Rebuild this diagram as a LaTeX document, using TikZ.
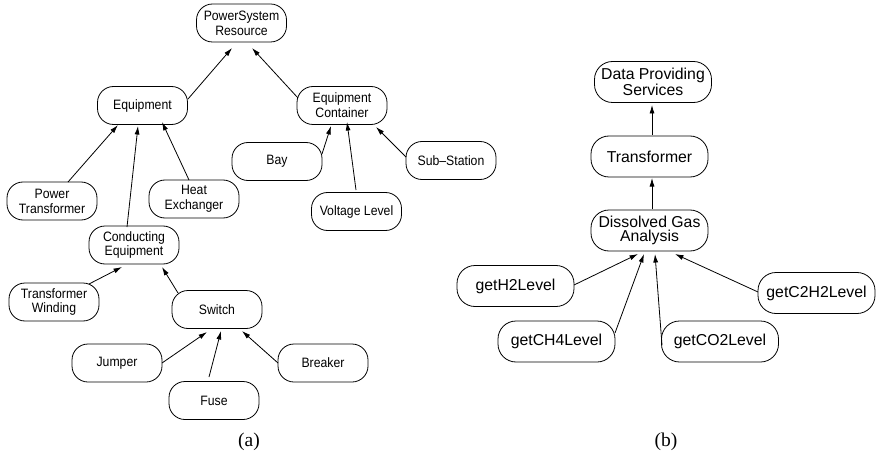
\documentclass[tikz,border=0pt]{standalone}
\usepackage{fontspec}
\usetikzlibrary{arrows.meta}
\newfontfamily\leftfont{Liberation Sans}[FakeStretch=0.9]
\newfontfamily\rightfont{Liberation Sans}
\newfontfamily\captionfont{Liberation Serif}
\tikzset{
  lnode/.style={draw, line width=0.8pt, rounded corners=16pt, minimum width=90pt, minimum height=38pt, inner sep=0pt, align=center, font=\leftfont\fontsize{13.6}{14.8}\selectfont},
  rnode/.style={draw, line width=0.8pt, rounded corners=18pt, minimum width=117pt, minimum height=41pt, inner sep=0pt, align=center, font=\rightfont\fontsize{15.8}{14.5}\selectfont},
  arr/.style={-{Latex[length=8.5pt,width=5pt]}, line width=0.8pt},
  captext/.style={font=\captionfont\fontsize{19.5}{22}\selectfont, inner sep=0pt}
}
\begin{document}
\begin{tikzpicture}[x=1pt,y=-1pt]
\path[use as bounding box] (0,0) rectangle (877,457);
% panel (a)
\node[lnode] (psr) at (241.5,23) {PowerSystem\\Resource};
\node[lnode] (eq) at (142.5,105.5) {Equipment};
\node[lnode] (ec) at (342,105.5) {Equipment\\Container};
\node[lnode] (bay) at (277,161.5) {Bay};
\node[lnode] (sub) at (451,160.5) {Sub–Station};
\node[lnode] (vl) at (356.5,211.5) {Voltage Level};
\node[lnode] (pt) at (52,201) {Power\\Transformer};
\node[lnode] (he) at (194,199) {Heat\\Exchanger};
\node[lnode] (ce) at (134,245) {Conducting\\Equipment};
\node[lnode] (tw) at (54,302) {Transformer\\Winding};
\node[lnode] (sw) at (217,309.5) {Switch};
\node[lnode] (jp) at (117,363) {Jumper};
\node[lnode] (br) at (323,363) {Breaker};
\node[lnode] (fu) at (214,400.5) {Fuse};
\node[captext] (capa) at (249,442) {(a)};
\draw[arr] ([shift={(45.5,-6.5)}]eq.center) -- ([shift={(-9.5,25)}]psr.center);
\draw[arr] ([shift={(-44,-7.5)}]ec.center) -- ([shift={(10.5,25)}]psr.center);
\draw[arr] ([shift={(16,-19)}]pt.center) -- ([shift={(-24.5,19.5)}]eq.center);
\draw[arr] ([shift={(-7,-18)}]ce.center) -- ([shift={(-4.5,20.5)}]eq.center);
\draw[arr] ([shift={(-5,-19)}]he.center) -- ([shift={(19.5,16.5)}]eq.center);
\draw[arr] ([shift={(45,-7.5)}]bay.center) -- ([shift={(-11,20.5)}]ec.center);
\draw[arr] ([shift={(-0.5,-21.5)}]vl.center) -- ([shift={(5,16.5)}]ec.center);
\draw[arr] ([shift={(-45,-3.5)}]sub.center) -- ([shift={(34,21.5)}]ec.center);
\draw[arr] ([shift={(35,-18)}]tw.center) -- ([shift={(-12,22)}]ce.center);
\draw[arr] ([shift={(-39,-16.5)}]sw.center) -- ([shift={(28,22)}]ce.center);
\draw[arr] ([shift={(45,0)}]jp.center) -- ([shift={(-10,22.5)}]sw.center);
\draw[arr] ([shift={(-5,-23.5)}]fu.center) -- ([shift={(4,21.5)}]sw.center);
\draw[arr] ([shift={(-45,0)}]br.center) -- ([shift={(25,21.5)}]sw.center);
% panel (b)
\node[rnode] (dps) at (653,82) {Data Providing\\Services};
\node[rnode] (tr) at (649.5,156.5) {Transformer};
\node[rnode] (dga) at (649.5,230.5) {Dissolved Gas\\Analysis};
\node[rnode] (h2) at (515.5,286) {getH2Level};
\node[rnode] (ch4) at (556.5,341.5) {getCH4Level};
\node[rnode] (co2) at (720,341.5) {getCO2Level};
\node[rnode] (c2h2) at (816.5,293) {getC2H2Level};
\node[captext] (capb) at (666,442) {(b)};
\draw[arr] ([shift={(2.5,-21.5)}]tr.center) -- ([shift={(-1,23)}]dps.center);
\draw[arr] ([shift={(2.5,-21.5)}]dga.center) -- ([shift={(2.5,21.5)}]tr.center);
\draw[arr] ([shift={(58.5,-1)}]h2.center) -- ([shift={(-11.5,23.5)}]dga.center);
\draw[arr] ([shift={(58.5,-8.5)}]ch4.center) -- ([shift={(-5.5,23.5)}]dga.center);
\draw[arr] ([shift={(-58,3.5)}]co2.center) -- ([shift={(5.5,23.5)}]dga.center);
\draw[arr] ([shift={(-58.5,-1)}]c2h2.center) -- ([shift={(25.5,23.5)}]dga.center);
\end{tikzpicture}
\end{document}
